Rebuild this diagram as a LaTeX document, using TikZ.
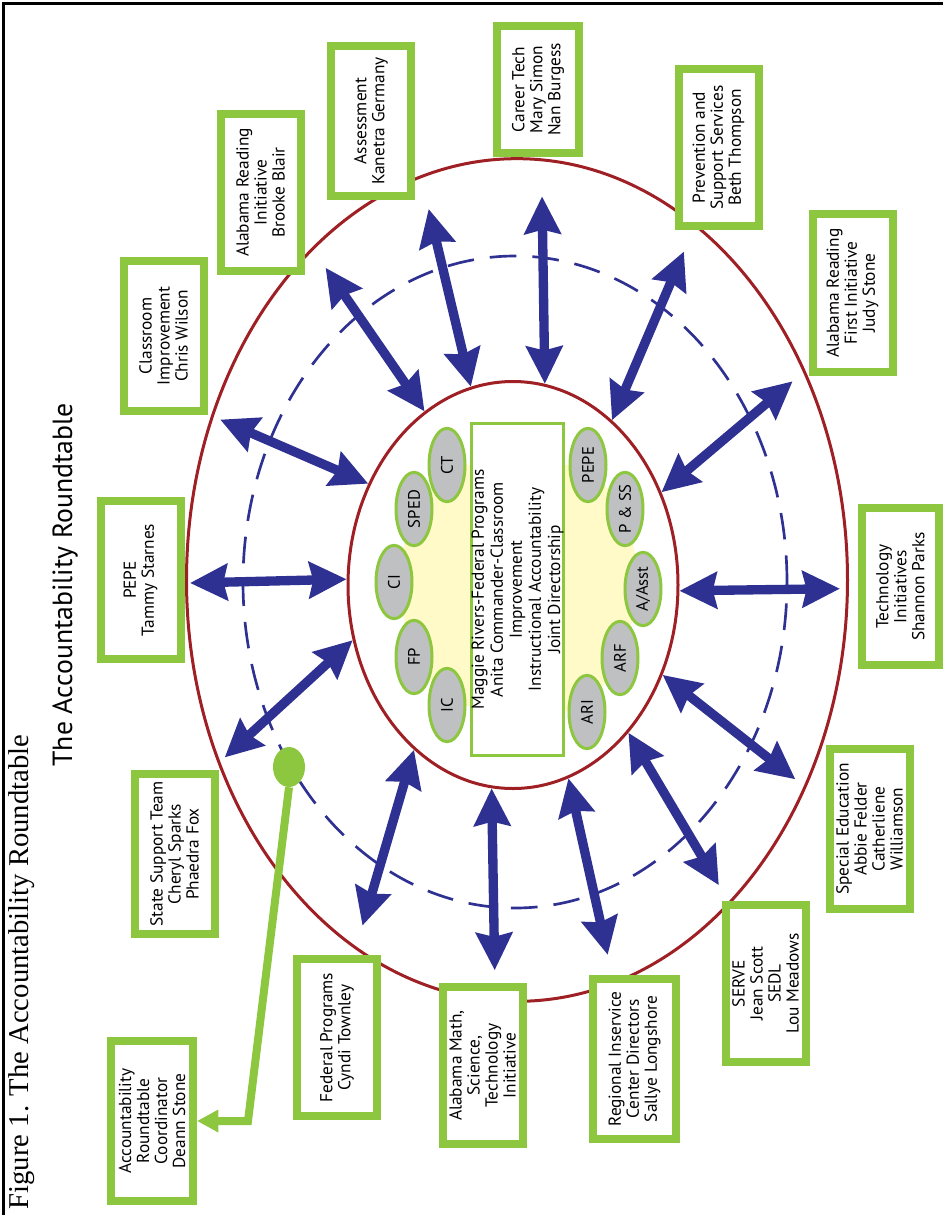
\documentclass[tikz,border=0pt]{standalone}
\usepackage{fontspec}
\setmainfont{PT Sans}
\newfontfamily\capfont{Liberation Serif}
\usetikzlibrary{shapes.geometric,arrows.meta,backgrounds}

\definecolor{rtgreen}{RGB}{141,198,63}
\definecolor{rtnavy}{RGB}{46,49,146}
\definecolor{rtred}{RGB}{158,31,36}
\definecolor{rtgray}{RGB}{190,192,194}
\definecolor{rtyellow}{RGB}{255,250,200}

\tikzset{
  card/.style={draw=rtgreen, line width=6pt, fill=white, rotate=90, align=center,
    inner sep=0pt, minimum width=118pt, minimum height=60pt,
    font=\fontsize{13}{13.5}\selectfont},
  seat/.style={ellipse, draw=rtgreen, line width=2.25pt, fill=rtgray, rotate=90,
    inner sep=0pt, minimum width=55pt, minimum height=27pt,
    font=\fontsize{12.5}{14}\selectfont},
  ring/.style={ellipse, inner sep=0pt},
  link/.style={rtnavy, line width=7pt,
    {Stealth[length=28pt,width=27pt,inset=3pt]}-{Stealth[length=28pt,width=27pt,inset=3pt]}},
}

\begin{document}
\begin{tikzpicture}[x=0.75pt, y=-0.75pt]
        \useasboundingbox (0,0) rectangle (943,1215);

        % page frame (top and left)
        \draw[line width=2.2pt] (943,3.5) -- (3.5,3.5) -- (3.5,1215);

        % captions
        \node[rotate=90, font=\capfont\fontsize{21.5}{24}\selectfont] (figcap) at (22,972) {Figure 1. The Accountability Roundtable};
        \node[rotate=90, font=\fontsize{20.8}{23}\selectfont] (title) at (65,585) {The Accountability Roundtable};

        % rings
        \node[ring, draw=rtred, line width=2.25pt, minimum width=495.75pt, minimum height=632pt] (outer) at (517,580) {};
        \node[ring, draw=rtnavy, line width=2pt, dash pattern=on 20pt off 12pt, minimum width=408pt, minimum height=489pt] (dashring) at (515,582) {};
        \node[ring, draw=rtred, line width=2.25pt, minimum width=247.5pt, minimum height=305.25pt] (inner) at (513,585) {};
        \node[ring, outer sep=0pt, minimum width=487.5pt, minimum height=582pt] (reach) at (515,583) {};

        % table in the middle
        \node[draw=rtgreen, line width=2.25pt, fill=white, rotate=90, align=center, inner sep=0pt,
              minimum width=249pt, minimum height=69pt, font=\fontsize{13}{14.3}\selectfont] (table) at (517.5,589.5)
              {Maggie Rivers-Federal Programs\\Anita Commander-Classroom\\Improvement\\Instructional Accountability\\Joint Directorship};

        % seats, left side
        \node[seat] (ct) at (447,465) {CT};
        \node[seat] (sped) at (414,509) {SPED};
        \node[seat] (ci) at (394,582) {CI};
        \node[seat] (fp) at (414,657) {FP};
        \node[seat] (ic) at (447,705) {IC};

        % seats, right side
        \node[seat] (pepeseat) at (588,465) {PEPE};
        \node[seat] (pss) at (625,509) {P \& SS};
        \node[seat] (asst) at (643,589) {A/Asst};
        \node[seat] (arf) at (620,658) {ARF};
        \node[seat] (ariseat) at (587,712) {ARI};

        % yellow table top behind the seats
        \begin{scope}[on background layer]
        \fill[rtyellow] (ct.center) -- (sped.center) -- (ci.center) -- (fp.center) -- (ic.center)
              -- (ariseat.center) -- (arf.center) -- (asst.center) -- (pss.center) -- (pepeseat.center) -- cycle;
        \end{scope}

        % outer cards (clockwise from top)
        \node[card, minimum width=95.25pt, minimum height=61.5pt] (career) at (538,89.5) {Career Tech\\Mary Simon\\Nan Burgess};
        \node[card] (prevent) at (718.5,147.5) {Prevention and\\Support Services\\Beth Thompson};
        \node[card] (arfi) at (852.5,293) {Alabama Reading\\First Initiative\\Judy Stone};
        \node[card, minimum height=57.75pt] (tech) at (900.5,586.5) {Technology\\Initiatives\\Shannon Parks};
        \node[card, minimum width=120pt] (sped2) at (869.5,829) {Special Education\\Abbie Felder\\Catherliene\\Williamson};
        \node[card] (serve) at (765.5,983.5) {SERVE\\Jean Scott\\SEDL\\Lou Meadows};
        \node[card, minimum width=120pt, minimum height=62.25pt] (regional) at (634.5,1059) {Regional Inservice\\Center Directors\\Sallye Longshore};
        \node[card] (amsti) at (482.5,1065.5) {Alabama Math,\\Science,\\Technology\\Initiative};
        \node[card] (fedprog) at (337,1037.5) {Federal Programs\\Cyndi Townley};
        \node[card, minimum width=120pt] (sst) at (174.5,854) {State Support Team\\Cheryl Sparks\\Phaedra Fox};
        \node[card] (pepe) at (140.5,580) {PEPE\\Tammy Starnes};
        \node[card, minimum width=112.5pt] (classroom) at (163.5,336) {Classroom\\Improvement\\Chris Wilson};
        \node[card] (ari) at (260.5,192.5) {Alabama Reading\\Initiative\\Brooke Blair};
        \node[card, minimum width=112.5pt] (assess) at (371,121) {Assessment\\Kanetra Germany};

        % coordinator
        \node[card, minimum width=120pt, minimum height=61.5pt] (coord) at (152,1121) {Accountability\\Roundtable\\Coordinator\\Deann Stone};

        % spokes
        \draw[link] (inner.81) -- (reach.86);
        \draw[link] (inner.102) -- (reach.103);
        \draw[link] (inner.117) -- (reach.121);
        \draw[link] (inner.145) -- (reach.151);
        \draw[link] (inner.178) -- (reach.180);
        \draw[link] (inner.199) -- (reach.211);
        \draw[link] (inner.239) -- (reach.246);
        \draw[link] (inner.264) -- (reach.267);
        \draw[link] (inner.286) -- (reach.284);
        \draw[link] (inner.308) -- (reach.304);
        \draw[link] (inner.329) -- (reach.325);
        \draw[link] (inner.358) -- (reach.359);
        \draw[link] (inner.32) -- (reach.36);
        \draw[link] (inner.59) -- (reach.63);

        % pin to the coordinator
        \node[ellipse, fill=rtgreen, inner sep=0pt, minimum width=24pt, minimum height=30pt] (pin) at (289,767) {};
        \coordinate (bend) at (248,1121);
        \draw[rtgreen, line width=6pt, -{Triangle[length=16pt,width=16pt]}] (pin.south) -- (bend) -- (coord.south);

    \end{tikzpicture}
\end{document}
